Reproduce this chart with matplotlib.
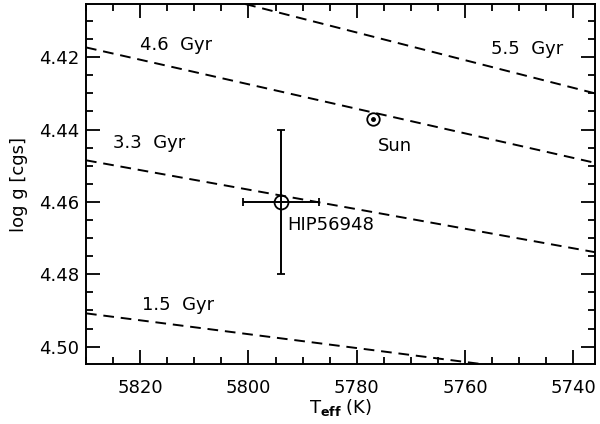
import matplotlib
matplotlib.use("Agg")
import matplotlib.pyplot as plt
from matplotlib.ticker import MultipleLocator, FormatStrFormatter

plt.rcParams['font.family'] = ['DejaVu Sans']
plt.rcParams['mathtext.fontset'] = 'dejavusans'

# isochrones: endpoints (Teff, log g)
iso_labels = ["1.5  Gyr", "3.3  Gyr", "4.6  Gyr", "5.5  Gyr"]
iso_teff = [[5830, 5756], [5830, 5736], [5830, 5736], [5800.6, 5736]]
iso_logg = [[4.4908, 4.505], [4.4485, 4.4739], [4.4173, 4.4492], [4.4053, 4.4300]]
label_teff = [5819.7, 5825.0, 5820.0, 5755.2]
label_logg = [4.4885, 4.4436, 4.4166, 4.4176]

sun_teff, sun_logg = 5777, 4.437
hip_teff, hip_logg = 5794, 4.46
hip_teff_err, hip_logg_err = 7, 0.02

fs = 13

fig = plt.figure(figsize=(6, 4.24), dpi=100)
ax = fig.add_axes([86/600, 1-364/424, (595-86)/600, (364-4)/424])

for t, g in zip(iso_teff, iso_logg):
    ax.plot(t, g, ls=(0, (5.5, 3.5)), color='black', lw=1.4)
for lab, t, g in zip(iso_labels, label_teff, label_logg):
    ax.text(t, g, lab, fontsize=fs, ha='left', va='center')

# Sun
ax.plot(sun_teff, sun_logg, marker='o', ms=9, mfc='white', mec='black', mew=1.3)
ax.plot(sun_teff, sun_logg, marker='o', ms=2.5, color='black')
ax.text(5776.1, 4.4445, "Sun", fontsize=fs, ha='left', va='center')

# HIP56948
ax.errorbar(hip_teff, hip_logg, xerr=hip_teff_err, yerr=hip_logg_err, fmt='o',
            ms=10, mfc='none', mec='black', mew=1.3, color='black', ecolor='black',
            elinewidth=1.4, capsize=3, capthick=1.4)
ax.text(5792.8, 4.4663, "HIP56948", fontsize=fs, ha='left', va='center')

ax.set_xlim(5830, 5736)
ax.set_ylim(4.5048, 4.4053)
ax.xaxis.set_major_locator(MultipleLocator(20))
ax.xaxis.set_minor_locator(MultipleLocator(5))
ax.yaxis.set_major_locator(MultipleLocator(0.02))
ax.yaxis.set_minor_locator(MultipleLocator(0.005))
ax.yaxis.set_major_formatter(FormatStrFormatter('%.2f'))
ax.tick_params(which='both', direction='in', top=True, right=True, labelsize=fs, width=1.3)
ax.tick_params(which='major', length=10)
ax.tick_params(axis='x', which='major', pad=11)
ax.tick_params(axis='y', which='major', pad=5)
ax.tick_params(which='minor', length=5)
for s in ax.spines.values():
    s.set_linewidth(1.4)

ax.set_xlabel(r"T$_{\mathbf{eff}}$ (K)", fontsize=fs, labelpad=0)
ax.set_ylabel("log g [cgs]", fontsize=fs, labelpad=8)

fig.savefig("out.png", dpi=100)
